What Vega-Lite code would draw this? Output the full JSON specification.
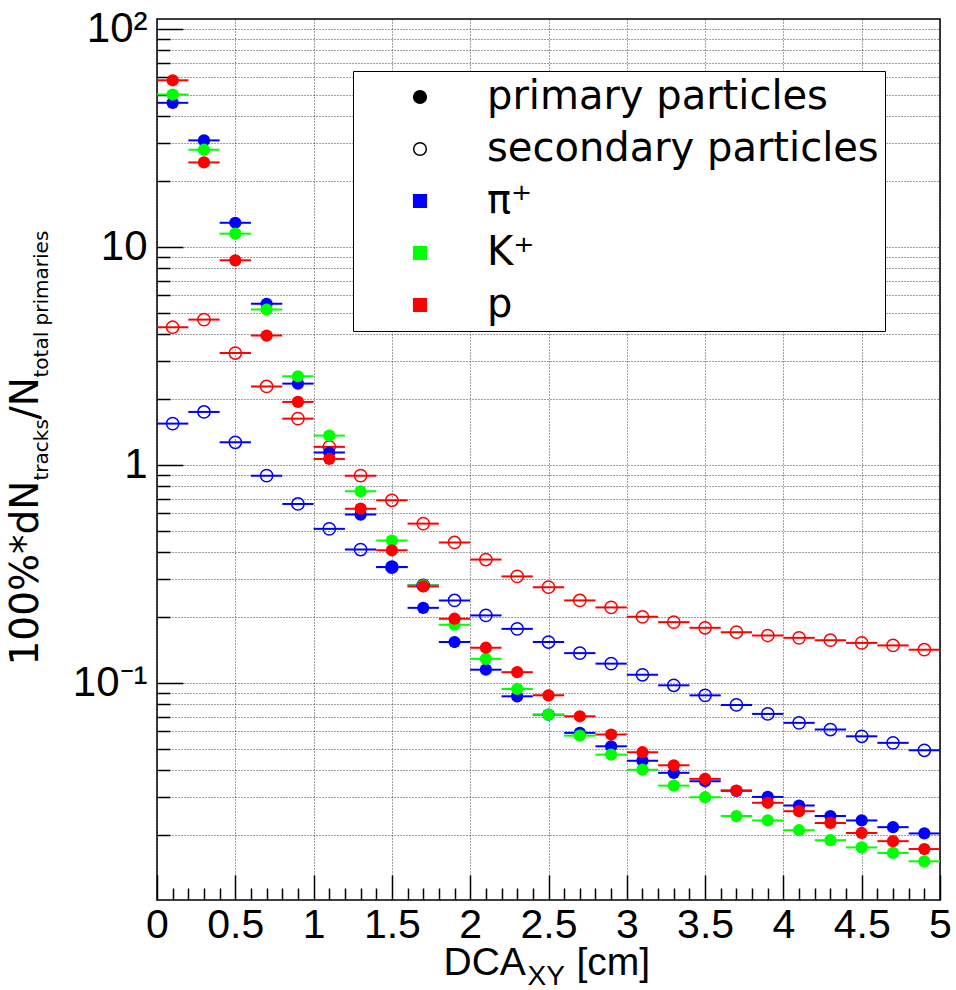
{
  "$schema": "https://vega.github.io/schema/vega-lite/v6.json",
  "width": 783,
  "height": 881,
  "autosize": {"type": "none"},
  "padding": {"left": 157, "top": 19, "right": 16, "bottom": 90},
  "background": "white",
  "config": {
    "view": {"stroke": "black", "strokeWidth": 1.5},
    "axis": {
      "labelFont": "Liberation Sans",
      "labelFontSize": 42,
      "labelColor": "black",
      "labelFlush": false,
      "labelOverlap": false,
      "tickColor": "black",
      "tickWidth": 1.5,
      "domain": false,
      "gridColor": "black",
      "gridOpacity": 0.75,
      "gridDash": [1, 2],
      "gridWidth": 1,
      "titleFont": "Liberation Sans",
      "titleFontWeight": "normal",
      "titleColor": "black"
    }
  },
  "datasets": {
    "d": [
      {"x":0.1,"lo":0,"hi":0.2,"sp":"pi","ty":"sec","v":1.547},
      {"x":0.3,"lo":0.2,"hi":0.4,"sp":"pi","ty":"sec","v":1.75},
      {"x":0.5,"lo":0.4,"hi":0.6,"sp":"pi","ty":"sec","v":1.27},
      {"x":0.7,"lo":0.6,"hi":0.8,"sp":"pi","ty":"sec","v":0.893},
      {"x":0.9,"lo":0.8,"hi":1,"sp":"pi","ty":"sec","v":0.662},
      {"x":1.1,"lo":1,"hi":1.2,"sp":"pi","ty":"sec","v":0.509},
      {"x":1.3,"lo":1.2,"hi":1.4,"sp":"pi","ty":"sec","v":0.409},
      {"x":1.5,"lo":1.4,"hi":1.6,"sp":"pi","ty":"sec","v":0.34},
      {"x":1.7,"lo":1.6,"hi":1.8,"sp":"pi","ty":"sec","v":0.28},
      {"x":1.9,"lo":1.8,"hi":2,"sp":"pi","ty":"sec","v":0.239},
      {"x":2.1,"lo":2,"hi":2.2,"sp":"pi","ty":"sec","v":0.204},
      {"x":2.3,"lo":2.2,"hi":2.4,"sp":"pi","ty":"sec","v":0.177},
      {"x":2.5,"lo":2.4,"hi":2.6,"sp":"pi","ty":"sec","v":0.154},
      {"x":2.7,"lo":2.6,"hi":2.8,"sp":"pi","ty":"sec","v":0.137},
      {"x":2.9,"lo":2.8,"hi":3,"sp":"pi","ty":"sec","v":0.1226},
      {"x":3.1,"lo":3,"hi":3.2,"sp":"pi","ty":"sec","v":0.109},
      {"x":3.3,"lo":3.2,"hi":3.4,"sp":"pi","ty":"sec","v":0.0975},
      {"x":3.5,"lo":3.4,"hi":3.6,"sp":"pi","ty":"sec","v":0.0877},
      {"x":3.7,"lo":3.6,"hi":3.8,"sp":"pi","ty":"sec","v":0.0793},
      {"x":3.9,"lo":3.8,"hi":4,"sp":"pi","ty":"sec","v":0.0721},
      {"x":4.1,"lo":4,"hi":4.2,"sp":"pi","ty":"sec","v":0.0656},
      {"x":4.3,"lo":4.2,"hi":4.4,"sp":"pi","ty":"sec","v":0.0611},
      {"x":4.5,"lo":4.4,"hi":4.6,"sp":"pi","ty":"sec","v":0.0569},
      {"x":4.7,"lo":4.6,"hi":4.8,"sp":"pi","ty":"sec","v":0.0531},
      {"x":4.9,"lo":4.8,"hi":5,"sp":"pi","ty":"sec","v":0.0491},
      {"x":0.1,"lo":0,"hi":0.2,"sp":"p","ty":"sec","v":4.28},
      {"x":0.3,"lo":0.2,"hi":0.4,"sp":"p","ty":"sec","v":4.64},
      {"x":0.5,"lo":0.4,"hi":0.6,"sp":"p","ty":"sec","v":3.26},
      {"x":0.7,"lo":0.6,"hi":0.8,"sp":"p","ty":"sec","v":2.29},
      {"x":0.9,"lo":0.8,"hi":1,"sp":"p","ty":"sec","v":1.63},
      {"x":1.1,"lo":1,"hi":1.2,"sp":"p","ty":"sec","v":1.21},
      {"x":1.3,"lo":1.2,"hi":1.4,"sp":"p","ty":"sec","v":0.893},
      {"x":1.5,"lo":1.4,"hi":1.6,"sp":"p","ty":"sec","v":0.688},
      {"x":1.7,"lo":1.6,"hi":1.8,"sp":"p","ty":"sec","v":0.538},
      {"x":1.9,"lo":1.8,"hi":2,"sp":"p","ty":"sec","v":0.441},
      {"x":2.1,"lo":2,"hi":2.2,"sp":"p","ty":"sec","v":0.368},
      {"x":2.3,"lo":2.2,"hi":2.4,"sp":"p","ty":"sec","v":0.308},
      {"x":2.5,"lo":2.4,"hi":2.6,"sp":"p","ty":"sec","v":0.275},
      {"x":2.7,"lo":2.6,"hi":2.8,"sp":"p","ty":"sec","v":0.239},
      {"x":2.9,"lo":2.8,"hi":3,"sp":"p","ty":"sec","v":0.222},
      {"x":3.1,"lo":3,"hi":3.2,"sp":"p","ty":"sec","v":0.201},
      {"x":3.3,"lo":3.2,"hi":3.4,"sp":"p","ty":"sec","v":0.19},
      {"x":3.5,"lo":3.4,"hi":3.6,"sp":"p","ty":"sec","v":0.179},
      {"x":3.7,"lo":3.6,"hi":3.8,"sp":"p","ty":"sec","v":0.171},
      {"x":3.9,"lo":3.8,"hi":4,"sp":"p","ty":"sec","v":0.165},
      {"x":4.1,"lo":4,"hi":4.2,"sp":"p","ty":"sec","v":0.161},
      {"x":4.3,"lo":4.2,"hi":4.4,"sp":"p","ty":"sec","v":0.157},
      {"x":4.5,"lo":4.4,"hi":4.6,"sp":"p","ty":"sec","v":0.1526},
      {"x":4.7,"lo":4.6,"hi":4.8,"sp":"p","ty":"sec","v":0.1486},
      {"x":4.9,"lo":4.8,"hi":5,"sp":"p","ty":"sec","v":0.142},
      {"x":0.1,"lo":0,"hi":0.2,"sp":"pi","ty":"prim","v":45.8},
      {"x":0.3,"lo":0.2,"hi":0.4,"sp":"pi","ty":"prim","v":30.8},
      {"x":0.5,"lo":0.4,"hi":0.6,"sp":"pi","ty":"prim","v":12.9},
      {"x":0.7,"lo":0.6,"hi":0.8,"sp":"pi","ty":"prim","v":5.48},
      {"x":0.9,"lo":0.8,"hi":1,"sp":"pi","ty":"prim","v":2.36},
      {"x":1.1,"lo":1,"hi":1.2,"sp":"pi","ty":"prim","v":1.14},
      {"x":1.3,"lo":1.2,"hi":1.4,"sp":"pi","ty":"prim","v":0.592},
      {"x":1.5,"lo":1.4,"hi":1.6,"sp":"pi","ty":"prim","v":0.34},
      {"x":1.7,"lo":1.6,"hi":1.8,"sp":"pi","ty":"prim","v":0.221},
      {"x":1.9,"lo":1.8,"hi":2,"sp":"pi","ty":"prim","v":0.154},
      {"x":2.1,"lo":2,"hi":2.2,"sp":"pi","ty":"prim","v":0.115},
      {"x":2.3,"lo":2.2,"hi":2.4,"sp":"pi","ty":"prim","v":0.0868},
      {"x":2.5,"lo":2.4,"hi":2.6,"sp":"pi","ty":"prim","v":0.0715},
      {"x":2.7,"lo":2.6,"hi":2.8,"sp":"pi","ty":"prim","v":0.059},
      {"x":2.9,"lo":2.8,"hi":3,"sp":"pi","ty":"prim","v":0.0512},
      {"x":3.1,"lo":3,"hi":3.2,"sp":"pi","ty":"prim","v":0.044},
      {"x":3.3,"lo":3.2,"hi":3.4,"sp":"pi","ty":"prim","v":0.0387},
      {"x":3.5,"lo":3.4,"hi":3.6,"sp":"pi","ty":"prim","v":0.0354},
      {"x":3.7,"lo":3.6,"hi":3.8,"sp":"pi","ty":"prim","v":0.032},
      {"x":3.9,"lo":3.8,"hi":4,"sp":"pi","ty":"prim","v":0.03},
      {"x":4.1,"lo":4,"hi":4.2,"sp":"pi","ty":"prim","v":0.0274},
      {"x":4.3,"lo":4.2,"hi":4.4,"sp":"pi","ty":"prim","v":0.0245},
      {"x":4.5,"lo":4.4,"hi":4.6,"sp":"pi","ty":"prim","v":0.0234},
      {"x":4.7,"lo":4.6,"hi":4.8,"sp":"pi","ty":"prim","v":0.0218},
      {"x":4.9,"lo":4.8,"hi":5,"sp":"pi","ty":"prim","v":0.0204},
      {"x":0.1,"lo":0,"hi":0.2,"sp":"K","ty":"prim","v":50.0},
      {"x":0.3,"lo":0.2,"hi":0.4,"sp":"K","ty":"prim","v":27.9},
      {"x":0.5,"lo":0.4,"hi":0.6,"sp":"K","ty":"prim","v":11.5},
      {"x":0.7,"lo":0.6,"hi":0.8,"sp":"K","ty":"prim","v":5.16},
      {"x":0.9,"lo":0.8,"hi":1,"sp":"K","ty":"prim","v":2.55},
      {"x":1.1,"lo":1,"hi":1.2,"sp":"K","ty":"prim","v":1.363},
      {"x":1.3,"lo":1.2,"hi":1.4,"sp":"K","ty":"prim","v":0.757},
      {"x":1.5,"lo":1.4,"hi":1.6,"sp":"K","ty":"prim","v":0.45},
      {"x":1.7,"lo":1.6,"hi":1.8,"sp":"K","ty":"prim","v":0.28},
      {"x":1.9,"lo":1.8,"hi":2,"sp":"K","ty":"prim","v":0.185},
      {"x":2.1,"lo":2,"hi":2.2,"sp":"K","ty":"prim","v":0.129},
      {"x":2.3,"lo":2.2,"hi":2.4,"sp":"K","ty":"prim","v":0.0938},
      {"x":2.5,"lo":2.4,"hi":2.6,"sp":"K","ty":"prim","v":0.0715},
      {"x":2.7,"lo":2.6,"hi":2.8,"sp":"K","ty":"prim","v":0.0573},
      {"x":2.9,"lo":2.8,"hi":3,"sp":"K","ty":"prim","v":0.0469},
      {"x":3.1,"lo":3,"hi":3.2,"sp":"K","ty":"prim","v":0.04},
      {"x":3.3,"lo":3.2,"hi":3.4,"sp":"K","ty":"prim","v":0.0338},
      {"x":3.5,"lo":3.4,"hi":3.6,"sp":"K","ty":"prim","v":0.0299},
      {"x":3.7,"lo":3.6,"hi":3.8,"sp":"K","ty":"prim","v":0.0245},
      {"x":3.9,"lo":3.8,"hi":4,"sp":"K","ty":"prim","v":0.0234},
      {"x":4.1,"lo":4,"hi":4.2,"sp":"K","ty":"prim","v":0.0211},
      {"x":4.3,"lo":4.2,"hi":4.4,"sp":"K","ty":"prim","v":0.019},
      {"x":4.5,"lo":4.4,"hi":4.6,"sp":"K","ty":"prim","v":0.0176},
      {"x":4.7,"lo":4.6,"hi":4.8,"sp":"K","ty":"prim","v":0.0166},
      {"x":4.9,"lo":4.8,"hi":5,"sp":"K","ty":"prim","v":0.0152},
      {"x":0.1,"lo":0,"hi":0.2,"sp":"p","ty":"prim","v":58.1},
      {"x":0.3,"lo":0.2,"hi":0.4,"sp":"p","ty":"prim","v":24.4},
      {"x":0.5,"lo":0.4,"hi":0.6,"sp":"p","ty":"prim","v":8.68},
      {"x":0.7,"lo":0.6,"hi":0.8,"sp":"p","ty":"prim","v":3.92},
      {"x":0.9,"lo":0.8,"hi":1,"sp":"p","ty":"prim","v":1.945},
      {"x":1.1,"lo":1,"hi":1.2,"sp":"p","ty":"prim","v":1.065},
      {"x":1.3,"lo":1.2,"hi":1.4,"sp":"p","ty":"prim","v":0.63},
      {"x":1.5,"lo":1.4,"hi":1.6,"sp":"p","ty":"prim","v":0.406},
      {"x":1.7,"lo":1.6,"hi":1.8,"sp":"p","ty":"prim","v":0.277},
      {"x":1.9,"lo":1.8,"hi":2,"sp":"p","ty":"prim","v":0.197},
      {"x":2.1,"lo":2,"hi":2.2,"sp":"p","ty":"prim","v":0.145},
      {"x":2.3,"lo":2.2,"hi":2.4,"sp":"p","ty":"prim","v":0.112},
      {"x":2.5,"lo":2.4,"hi":2.6,"sp":"p","ty":"prim","v":0.0877},
      {"x":2.7,"lo":2.6,"hi":2.8,"sp":"p","ty":"prim","v":0.0703},
      {"x":2.9,"lo":2.8,"hi":3,"sp":"p","ty":"prim","v":0.058},
      {"x":3.1,"lo":3,"hi":3.2,"sp":"p","ty":"prim","v":0.0481},
      {"x":3.3,"lo":3.2,"hi":3.4,"sp":"p","ty":"prim","v":0.0419},
      {"x":3.5,"lo":3.4,"hi":3.6,"sp":"p","ty":"prim","v":0.0363},
      {"x":3.7,"lo":3.6,"hi":3.8,"sp":"p","ty":"prim","v":0.0321},
      {"x":3.9,"lo":3.8,"hi":4,"sp":"p","ty":"prim","v":0.0282},
      {"x":4.1,"lo":4,"hi":4.2,"sp":"p","ty":"prim","v":0.0258},
      {"x":4.3,"lo":4.2,"hi":4.4,"sp":"p","ty":"prim","v":0.0228},
      {"x":4.5,"lo":4.4,"hi":4.6,"sp":"p","ty":"prim","v":0.0205},
      {"x":4.7,"lo":4.6,"hi":4.8,"sp":"p","ty":"prim","v":0.0188},
      {"x":4.9,"lo":4.8,"hi":5,"sp":"p","ty":"prim","v":0.0173}
    ],
    "leg": [
      {"entry": "primary particles"},
      {"entry": "secondary particles"},
      {"entry": "π⁺"},
      {"entry": "K⁺"},
      {"entry": "p"}
    ]
  },
  "resolve": {"axis": {"x": "independent", "y": "independent"}},
  "layer": [
    {
      "data": {"name": "d"},
      "mark": {"type": "rule", "strokeWidth": 2},
      "encoding": {
        "x": {"field": "lo", "type": "quantitative",
          "scale": {"domain": [0, 5], "nice": false, "zero": false},
          "axis": {"orient": "bottom", "values": [0,0.5,1,1.5,2,2.5,3,3.5,4,4.5,5], "tickSize": -25, "labelPadding": 30, "labelFontSize": 41, "labelBaseline": "top", "labelExpr": "format(datum.value, '~g')", "grid": true, "title": null}},
        "x2": {"field": "hi"},
        "y": {"field": "v", "type": "quantitative",
          "scale": {"type": "log", "domain": [0.0101, 111], "nice": false},
          "axis": {"orient": "left", "values": [0.1, 1, 10, 100], "tickSize": -26, "labelPadding": 36, "grid": true, "title": null,
            "labelExpr": "datum.value >= 99 ? '10²' : datum.value >= 9 ? '10' : datum.value >= 0.9 ? '1' : '10⁻¹'"}},
        "color": {"field": "sp", "type": "nominal", "scale": {"domain": ["pi", "K", "p"], "range": ["#0000ff", "#00ff00", "#ff0000"]}, "legend": null}
      }
    },
    {
      "data": {"name": "d"},
      "transform": [{"filter": "datum.sp == 'pi' && datum.ty == 'sec'"}],
      "mark": {"type": "point", "shape": "circle", "filled": false, "size": 150, "strokeWidth": 1.5, "opacity": 1},
      "encoding": {
        "x": {"field": "x", "type": "quantitative",
          "axis": {"orient": "bottom", "values": [0.1,0.2,0.3,0.4,0.6,0.7,0.8,0.9,1.1,1.2,1.3,1.4,1.6,1.7,1.8,1.9,2.1,2.2,2.3,2.4,2.6,2.7,2.8,2.9,3.1,3.2,3.3,3.4,3.6,3.7,3.8,3.9,4.1,4.2,4.3,4.4,4.6,4.7,4.8,4.9], "tickSize": -12, "labels": false, "grid": false, "title": null}},
        "y": {"field": "v", "type": "quantitative",
          "axis": {"orient": "left", "values": [0.02,0.03,0.04,0.05,0.06,0.07,0.08,0.09,0.2,0.3,0.4,0.5,0.6,0.7,0.8,0.9,2,3,4,5,6,7,8,9,20,30,40,50,60,70,80,90], "tickSize": -13, "labels": false, "grid": true, "title": null}},
        "color": {"field": "sp", "type": "nominal", "legend": null}
      }
    },
    {
      "data": {"name": "d"},
      "transform": [{"filter": "datum.sp == 'p' && datum.ty == 'sec'"}],
      "mark": {"type": "point", "shape": "circle", "filled": false, "size": 150, "strokeWidth": 1.5, "opacity": 1},
      "encoding": {
        "x": {"field": "x", "type": "quantitative", "axis": null},
        "y": {"field": "v", "type": "quantitative",
          "axis": {"orient": "left", "labels": false, "ticks": false, "grid": false, "title": "total primaries",
            "titleFont": "DejaVu Sans", "titleFontSize": 20, "titleAngle": -90, "titleAlign": "left", "titleBaseline": "alphabetic", "titleX": -110, "titleY": 358}},
        "color": {"field": "sp", "type": "nominal", "legend": null}
      }
    },
    {
      "data": {"name": "d"},
      "transform": [{"filter": "datum.sp == 'pi' && datum.ty == 'prim'"}],
      "mark": {"type": "point", "shape": "circle", "filled": true, "size": 150, "opacity": 1},
      "encoding": {
        "x": {"field": "x", "type": "quantitative",
          "axis": {"orient": "bottom", "labels": false, "ticks": false, "grid": false, "title": "DCA",
            "titleFontSize": 39, "titleAngle": 0, "titleAlign": "left", "titleBaseline": "alphabetic", "titleX": 286, "titleY": 74}},
        "y": {"field": "v", "type": "quantitative",
          "axis": {"orient": "left", "labels": false, "ticks": false, "grid": false, "title": "100%*dN",
            "titleFont": "DejaVu Sans", "titleFontSize": 39, "titleAngle": -90, "titleAlign": "left", "titleBaseline": "alphabetic", "titleX": -120, "titleY": 646}},
        "color": {"field": "sp", "type": "nominal", "legend": null}
      }
    },
    {
      "data": {"name": "d"},
      "transform": [{"filter": "datum.sp == 'K' && datum.ty == 'prim'"}],
      "mark": {"type": "point", "shape": "circle", "filled": true, "size": 150, "opacity": 1},
      "encoding": {
        "x": {"field": "x", "type": "quantitative",
          "axis": {"orient": "bottom", "labels": false, "ticks": false, "grid": false, "title": "XY",
            "titleFontSize": 28, "titleAngle": 0, "titleAlign": "left", "titleBaseline": "alphabetic", "titleX": 370, "titleY": 84}},
        "y": {"field": "v", "type": "quantitative",
          "axis": {"orient": "left", "labels": false, "ticks": false, "grid": false, "title": "tracks",
            "titleFont": "DejaVu Sans", "titleFontSize": 20, "titleAngle": -90, "titleAlign": "left", "titleBaseline": "alphabetic", "titleX": -110, "titleY": 461}},
        "color": {"field": "sp", "type": "nominal", "legend": null}
      }
    },
    {
      "data": {"name": "d"},
      "transform": [{"filter": "datum.sp == 'p' && datum.ty == 'prim'"}],
      "mark": {"type": "point", "shape": "circle", "filled": true, "size": 150, "opacity": 1},
      "encoding": {
        "x": {"field": "x", "type": "quantitative",
          "axis": {"orient": "bottom", "labels": false, "ticks": false, "grid": false, "title": "[cm]",
            "titleFontSize": 39, "titleAngle": 0, "titleAlign": "left", "titleBaseline": "alphabetic", "titleX": 419, "titleY": 74}},
        "y": {"field": "v", "type": "quantitative",
          "axis": {"orient": "left", "labels": false, "ticks": false, "grid": false, "title": "/N",
            "titleFont": "DejaVu Sans", "titleFontSize": 39, "titleAngle": -90, "titleAlign": "left", "titleBaseline": "alphabetic", "titleX": -120, "titleY": 400}},
        "color": {"field": "sp", "type": "nominal", "legend": null}
      }
    },
    {
      "data": {"name": "leg"},
      "mark": {"type": "point", "filled": true, "opacity": 0},
      "encoding": {
        "fill": {"field": "entry", "type": "nominal",
          "scale": {"domain": ["primary particles", "secondary particles", "π⁺", "K⁺", "p"], "range": ["black", "white", "#0000ff", "#00ff00", "#ff0000"]},
          "legend": {"orient": "none", "legendX": 196, "legendY": 52, "title": null, "fillColor": "white", "strokeColor": "black", "padding": 6, "symbolOffset": 41, "labelOffset": 47, "labelFont": "DejaVu Sans", "labelFontSize": 40, "labelColor": "black", "labelLimit": 0, "rowPadding": 12, "symbolSize": 160, "symbolStrokeWidth": 1.5, "symbolOpacity": 1}},
        "stroke": {"field": "entry", "type": "nominal",
          "scale": {"domain": ["primary particles", "secondary particles", "π⁺", "K⁺", "p"], "range": ["black", "black", "#0000ff", "#00ff00", "#ff0000"]},
          "legend": {"orient": "none", "legendX": 196, "legendY": 52, "title": null, "fillColor": "white", "strokeColor": "black", "padding": 6, "symbolOffset": 41, "labelOffset": 47, "labelFont": "DejaVu Sans", "labelFontSize": 40, "labelColor": "black", "labelLimit": 0, "rowPadding": 12, "symbolSize": 160, "symbolStrokeWidth": 1.5, "symbolOpacity": 1}},
        "shape": {"field": "entry", "type": "nominal",
          "scale": {"domain": ["primary particles", "secondary particles", "π⁺", "K⁺", "p"], "range": ["circle", "circle", "square", "square", "square"]},
          "legend": {"orient": "none", "legendX": 196, "legendY": 52, "title": null, "fillColor": "white", "strokeColor": "black", "padding": 6, "symbolOffset": 41, "labelOffset": 47, "labelFont": "DejaVu Sans", "labelFontSize": 40, "labelColor": "black", "labelLimit": 0, "rowPadding": 12, "symbolSize": 160, "symbolStrokeWidth": 1.5, "symbolOpacity": 1}}
      }
    }
  ]
}
